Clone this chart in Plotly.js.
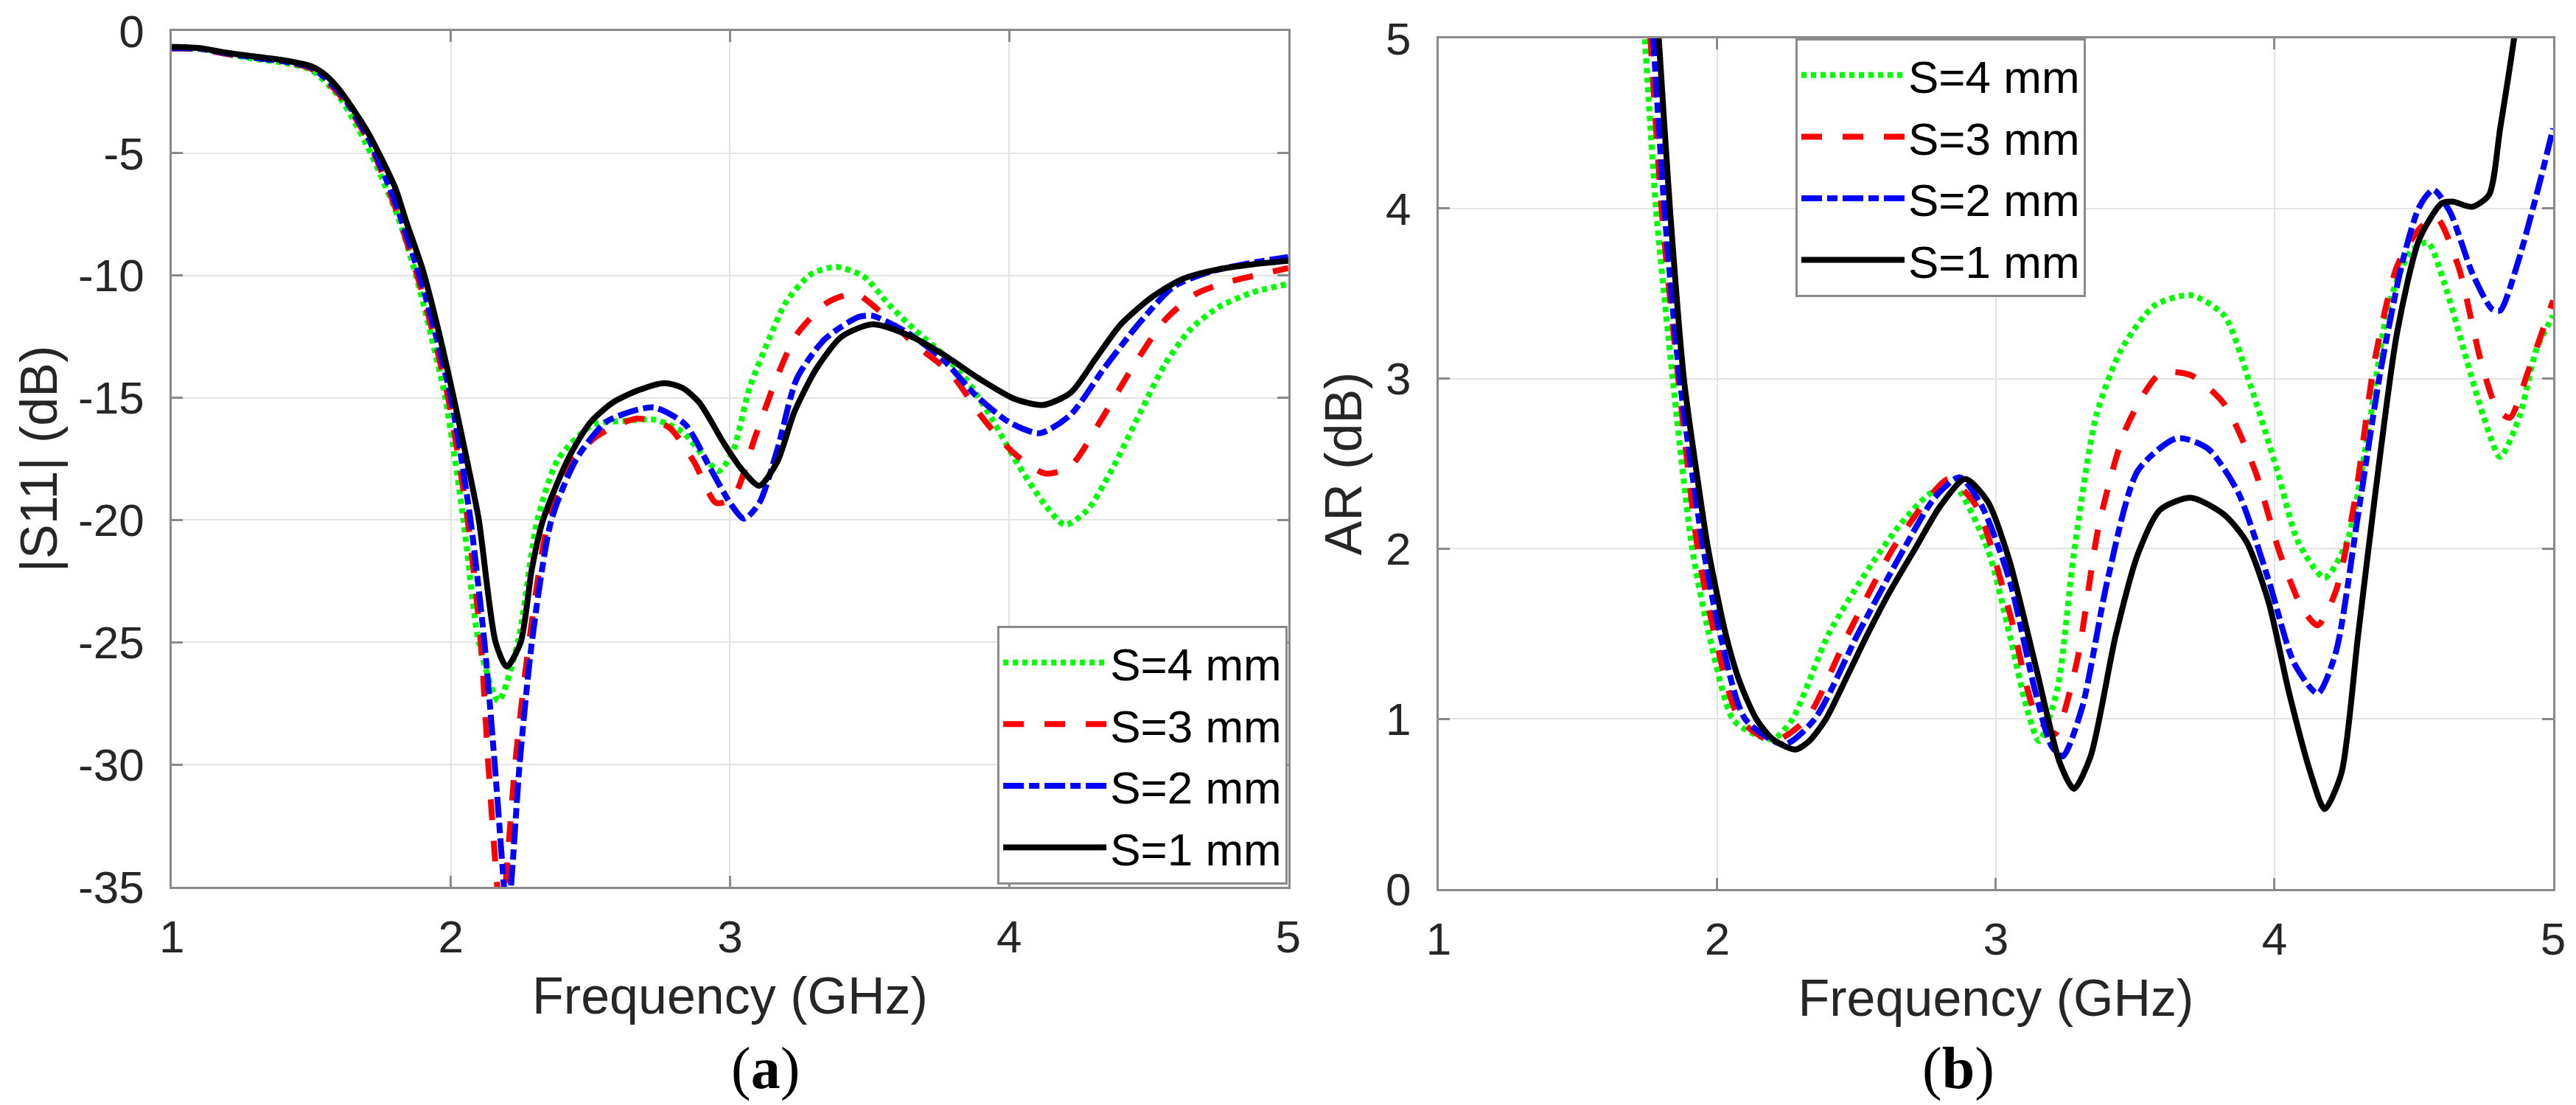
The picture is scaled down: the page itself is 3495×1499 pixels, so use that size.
<!DOCTYPE html>
<html>
<head>
<meta charset="utf-8">
<script src="https://cdn.plot.ly/plotly-3.0.1.min.js"></script>
<style>
  html, body { margin: 0; padding: 0; background: #fff; }
  #chart { width: 3495px; height: 1499px; }
</style>
</head>
<body>
<div id="chart"></div>
<script>
// (a) |S11| in dB
const s11F_s4 = [1.0,1.1,1.2,1.3,1.4,1.5,1.6,1.7,1.81,1.875,1.93,1.98,2.045,2.1,2.17,2.24,2.31,2.385,2.51,2.62,2.73,2.83,2.92,2.96,3.01,3.07,3.14,3.2,3.29,3.38,3.48,3.57,3.66,3.76,3.85,3.94,4.03,4.13,4.2,4.28,4.37,4.47,4.56,4.65,4.75,4.87,5.0]
const s11_s4 = [-0.7,-0.72,-0.95,-1.15,-1.3,-1.6,-2.7,-4.7,-7.6,-10.0,-12.5,-15.0,-20.0,-25.0,-27.4,-25.0,-20.0,-17.5,-16.1,-15.95,-15.9,-16.4,-17.6,-18.0,-17.2,-14.6,-12.6,-11.1,-9.95,-9.65,-10.05,-11.2,-12.2,-13.2,-14.3,-15.9,-17.7,-19.4,-20.2,-19.6,-17.9,-15.6,-13.6,-12.2,-11.3,-10.7,-10.35]

const s11F_s3 = [1.0,1.1,1.2,1.3,1.4,1.5,1.6,1.7,1.8,1.9,1.99,2.06,2.107,2.134,2.166,2.18,2.195,2.23,2.28,2.35,2.44,2.52,2.6,2.67,2.78,2.87,2.95,3.01,3.09,3.17,3.24,3.35,3.45,3.54,3.66,3.79,3.91,4.02,4.13,4.22,4.33,4.44,4.56,4.67,4.79,4.94,5.0]
const s11_s3 = [-0.72,-0.75,-0.95,-1.1,-1.25,-1.55,-2.6,-4.4,-7.2,-10.8,-15.0,-20.0,-25.0,-30.0,-35.0,-36.5,-35.0,-30.0,-25.0,-20.0,-17.5,-16.6,-16.1,-15.85,-16.2,-17.6,-19.3,-19.1,-16.6,-14.1,-12.4,-11.1,-10.75,-11.5,-12.8,-14.0,-15.9,-17.3,-18.1,-17.8,-15.9,-13.8,-11.8,-10.75,-10.25,-9.85,-9.7]

const s11F_s2 = [1.0,1.1,1.2,1.3,1.4,1.5,1.6,1.7,1.8,1.9,2.0,2.07,2.12,2.157,2.19,2.2,2.215,2.246,2.29,2.36,2.45,2.555,2.65,2.73,2.84,2.93,3.0,3.05,3.105,3.17,3.24,3.34,3.46,3.51,3.63,3.76,3.88,4.0,4.11,4.22,4.34,4.47,4.59,4.72,4.86,5.0]
const s11_s2 = [-0.7,-0.73,-0.92,-1.1,-1.25,-1.5,-2.5,-4.3,-7.0,-10.5,-15.0,-20.0,-25.0,-30.0,-35.0,-36.5,-35.0,-30.0,-25.0,-20.0,-17.5,-16.0,-15.55,-15.4,-16.1,-17.9,-19.3,-19.95,-19.3,-17.1,-14.2,-12.6,-11.7,-11.65,-12.3,-13.4,-14.9,-16.0,-16.45,-15.7,-13.8,-11.9,-10.45,-9.85,-9.5,-9.25]

const s11F_s1 = [1.0,1.1,1.2,1.3,1.4,1.5,1.55,1.6,1.7,1.8,1.84,1.9,1.95,2.01,2.06,2.1,2.16,2.2,2.25,2.29,2.33,2.42,2.5,2.58,2.67,2.765,2.83,2.89,2.98,3.04,3.105,3.17,3.23,3.31,3.4,3.51,3.63,3.76,3.89,4.02,4.12,4.22,4.31,4.4,4.51,4.62,4.75,4.87,5.0]
const s11_s1 = [-0.65,-0.7,-0.9,-1.05,-1.2,-1.45,-1.8,-2.4,-4.1,-6.4,-7.8,-9.8,-12.0,-15.0,-17.7,-20.0,-25.0,-26.0,-25.0,-22.0,-20.0,-17.5,-16.0,-15.2,-14.7,-14.4,-14.6,-15.2,-16.9,-17.9,-18.6,-17.6,-15.6,-13.8,-12.5,-12.0,-12.4,-13.2,-14.2,-15.05,-15.3,-14.8,-13.4,-12.0,-10.9,-10.15,-9.75,-9.55,-9.4]

// (b) axial ratio in dB
const arF_s4 = [1.72,1.74,1.78,1.84,1.91,1.97,2.055,2.12,2.2,2.27,2.40,2.55,2.66,2.76,2.845,2.97,3.05,3.11,3.155,3.22,3.28,3.36,3.45,3.57,3.7,3.82,3.91,4.01,4.085,4.18,4.26,4.33,4.41,4.49,4.55,4.61,4.69,4.75,4.81,4.88,4.94,5.0]
const ar_s4 = [5.5,5.0,4.0,3.0,2.0,1.5,1.0,0.92,0.88,1.0,1.5,1.9,2.15,2.32,2.38,2.0,1.49,1.07,0.87,1.17,1.97,2.78,3.17,3.43,3.49,3.37,2.98,2.46,2.04,1.83,2.04,2.62,3.43,3.75,3.80,3.56,3.11,2.78,2.54,2.78,3.17,3.37]

const arF_s3 = [1.74,1.76,1.80,1.86,1.93,1.99,2.08,2.2,2.32,2.47,2.63,2.75,2.83,2.93,3.05,3.14,3.21,3.29,3.37,3.47,3.59,3.70,3.82,3.93,4.02,4.10,4.155,4.22,4.29,4.36,4.44,4.52,4.58,4.66,4.74,4.80,4.845,4.91,5.0]
const ar_s3 = [5.5,5.0,4.0,3.0,2.0,1.5,1.0,0.87,1.0,1.5,2.0,2.28,2.41,2.25,1.62,1.04,0.91,1.33,2.14,2.72,3.03,3.02,2.85,2.46,1.97,1.65,1.55,1.75,2.30,3.11,3.66,3.88,3.95,3.66,3.11,2.82,2.77,3.04,3.46]

const arF_s2 = [1.75,1.77,1.81,1.865,1.95,2.01,2.10,2.24,2.35,2.505,2.67,2.78,2.87,2.95,3.05,3.14,3.20,3.24,3.31,3.40,3.51,3.65,3.76,3.87,3.98,4.07,4.155,4.22,4.30,4.38,4.46,4.52,4.57,4.63,4.71,4.78,4.81,4.875,4.95,5.0]
const ar_s2 = [5.5,5.0,4.0,3.0,2.0,1.5,1.0,0.85,1.0,1.5,2.0,2.3,2.42,2.25,1.81,1.17,0.84,0.78,1.07,1.81,2.46,2.65,2.59,2.33,1.81,1.33,1.15,1.39,2.20,3.04,3.69,4.01,4.11,3.98,3.62,3.41,3.40,3.69,4.14,4.47]

const arF_s1 = [1.77,1.79,1.83,1.88,1.93,1.967,2.03,2.08,2.14,2.2,2.28,2.33,2.39,2.46,2.54,2.62,2.71,2.8,2.89,2.97,3.047,3.14,3.23,3.28,3.34,3.43,3.51,3.59,3.7,3.82,3.9,3.98,4.05,4.13,4.18,4.24,4.3,4.36,4.44,4.52,4.6,4.64,4.71,4.77,4.81,4.86,4.89]
const ar_s1 = [5.5,5.0,4.0,3.0,2.4,2.0,1.5,1.22,1.0,0.88,0.82,0.87,1.0,1.23,1.5,1.75,2.0,2.25,2.41,2.28,1.94,1.33,0.74,0.59,0.78,1.49,1.97,2.23,2.30,2.2,2.04,1.68,1.17,0.68,0.47,0.68,1.49,2.30,3.27,3.82,4.03,4.04,4.01,4.08,4.47,5.0,5.4]

const seriesNames = ['S=4 mm', 'S=3 mm', 'S=2 mm', 'S=1 mm']
const xTicks = [1, 2, 3, 4, 5]
const s11Ticks = [-35, -30, -25, -20, -15, -10, -5, 0]
const arTicks = [0, 1, 2, 3, 4, 5]

const styles = [
    { color: '#00ff00', dash: '7px,6px' },
    { color: '#ff0000', dash: '28px,28px' },
    { color: '#0000ff', dash: '28px,7px,14px,7px' },
    { color: '#000000', dash: 'solid' }
]

const s11Data = [[s11F_s4, s11_s4], [s11F_s3, s11_s3], [s11F_s2, s11_s2], [s11F_s1, s11_s1]]
const arData = [[arF_s4, ar_s4], [arF_s3, ar_s3], [arF_s2, ar_s2], [arF_s1, ar_s1]]

let data = []
s11Data.forEach(([f, v], i) => {
    data.push({
        type: 'scatter', mode: 'lines', x: f, y: v, name: seriesNames[i],
        xaxis: 'x', yaxis: 'y', legend: 'legend',
        line: { color: styles[i].color, dash: styles[i].dash, width: 8, shape: 'spline', smoothing: 0.7 }
    })
})
arData.forEach(([f, v], i) => {
    data.push({
        type: 'scatter', mode: 'lines', x: f, y: v, name: seriesNames[i],
        xaxis: 'x2', yaxis: 'y2', legend: 'legend2',
        line: { color: styles[i].color, dash: styles[i].dash, width: 8, shape: 'spline', smoothing: 0.7 }
    })
})

const sans = 'Liberation Sans, Arial, sans-serif'
const axisBase = {
    showline: true, linecolor: '#8a8a8a', linewidth: 3, mirror: 'ticks',
    ticks: 'inside', ticklen: 15, tickwidth: 3, tickcolor: '#8a8a8a',
    showgrid: true, gridcolor: '#e3e3e3', gridwidth: 2,
    zeroline: false, automargin: false,
    tickfont: { family: sans, size: 62, color: '#262626' }
}
const xAxis = (domain) => ({
    ...axisBase, domain: domain, range: [1, 5],
    tickvals: xTicks, ticktext: xTicks.map(String), ticklabelstandoff: 12,
    title: { text: 'Frequency (GHz)', font: { family: sans, size: 70, color: '#262626' }, standoff: 22 }
})

const legendBase = {
    font: { family: sans, size: 62, color: '#000' },
    bgcolor: '#ffffff', bordercolor: '#8a8a8a', borderwidth: 3,
    itemwidth: 140, tracegroupgap: 0
}

const layout = {
    width: 3495, height: 1499,
    margin: { l: 0, r: 0, t: 0, b: 0 },
    paper_bgcolor: '#ffffff', plot_bgcolor: '#ffffff',
    showlegend: true,
    xaxis: xAxis([0.0667, 0.5001]),
    yaxis: {
        ...axisBase, domain: [0.1975, 0.972], range: [-35, 0],
        tickvals: s11Ticks, ticktext: s11Ticks.map(String), ticklabelstandoff: 22,
        title: { text: '|S11| (dB)', font: { family: sans, size: 70, color: '#262626' }, standoff: 6 }
    },
    xaxis2: { ...xAxis([0.5585, 0.9911]), anchor: 'y2' },
    yaxis2: {
        ...axisBase, domain: [0.1954, 0.9653], range: [0, 5], anchor: 'x2',
        tickvals: arTicks, ticktext: arTicks.map(String), ticklabelstandoff: 22,
        title: { text: 'AR (dB)', font: { family: sans, size: 70, color: '#262626' }, standoff: 10 }
    },
    legend: { ...legendBase, x: 0.4999, xanchor: 'right', y: 0.1995, yanchor: 'bottom' },
    legend2: { ...legendBase, x: 0.697, xanchor: 'left', y: 0.9653, yanchor: 'top' },
    annotations: [
        { text: '(<b>a</b>)', xref: 'paper', yref: 'paper', x: 0.2833, y: 0.033, yanchor: 'middle', showarrow: false,
          font: { family: 'Liberation Serif, Times New Roman, serif', size: 80, color: '#000' } },
        { text: '(<b>b</b>)', xref: 'paper', yref: 'paper', x: 0.7748, y: 0.033, yanchor: 'middle', showarrow: false,
          font: { family: 'Liberation Serif, Times New Roman, serif', size: 80, color: '#000' } }
    ]
}

Plotly.newPlot('chart', data, layout, { staticPlot: true, displayModeBar: false })
</script>
</body>
</html>
